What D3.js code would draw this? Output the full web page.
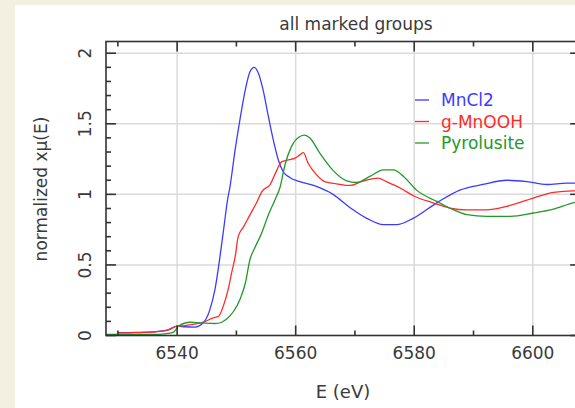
<!DOCTYPE html>
<html>
<head>
<meta charset="utf-8">
<script src="https://cdn.jsdelivr.net/npm/d3@7"></script>
<style>
  html, body { margin: 0; padding: 0; background: #f4f0e1; }
  svg { display: block; }
  text { font-family: "DejaVu Sans", sans-serif; fill: #3a3a3a; }
</style>
</head>
<body>
<svg id="chart" width="575" height="408"></svg>
<script>
// Normalized Mn K-edge XANES for three reference compounds
const seriesNames = ["MnCl2", "g-MnOOH", "Pyrolusite"];
const seriesColors = ["#3b3bff", "#ff2a2a", "#22992a"];

const energyMnCl2 = [6530, 6533, 6536.5, 6538.5, 6540, 6541.3, 6543, 6544.4, 6545.5, 6546.4, 6547.1, 6547.9, 6548.5, 6548.9, 6549.8, 6550.6, 6551.5, 6552.3, 6553, 6553.7, 6554.5, 6555.4, 6556.2, 6557.1, 6557.9, 6559, 6560.7, 6563.5, 6566.3, 6569.2, 6572, 6574.8, 6577, 6579.8, 6583.8, 6587.7, 6591.6, 6595.6, 6599, 6602.4, 6605.7, 6610];
const muMnCl2 = [0.02, 0.022, 0.028, 0.04, 0.066, 0.062, 0.06, 0.09, 0.18, 0.33, 0.52, 0.77, 0.96, 1.05, 1.32, 1.53, 1.74, 1.87, 1.90, 1.86, 1.74, 1.55, 1.39, 1.24, 1.16, 1.12, 1.09, 1.056, 1.0, 0.905, 0.83, 0.785, 0.785, 0.83, 0.94, 1.03, 1.07, 1.10, 1.09, 1.07, 1.08, 1.08];

const energyMnOOH = [6530, 6533, 6536.3, 6538.5, 6540, 6541.3, 6542.5, 6544.4, 6546.1, 6547, 6547.8, 6548.6, 6549.2, 6549.8, 6550.3, 6551.2, 6552.3, 6553.4, 6554.3, 6555.7, 6556.8, 6557.6, 6558.8, 6559.9, 6560.7, 6561.3, 6562.1, 6563.5, 6564.9, 6566.9, 6569.2, 6571.1, 6573.9, 6575.3, 6577.6, 6580.1, 6583.2, 6586, 6588.9, 6592.2, 6595.6, 6600.1, 6603.5, 6606.8, 6610];
const muMnOOH = [0.018, 0.02, 0.025, 0.04, 0.066, 0.07, 0.078, 0.094, 0.125, 0.136, 0.21, 0.325, 0.445, 0.56, 0.70, 0.77, 0.856, 0.94, 1.02, 1.07, 1.17, 1.23, 1.245, 1.257, 1.28, 1.295, 1.22, 1.14, 1.09, 1.075, 1.063, 1.09, 1.115, 1.09, 1.045, 0.985, 0.94, 0.903, 0.89, 0.89, 0.915, 0.974, 1.014, 1.025, 1.025];

const energyPyrolusite = [6526, 6536, 6538, 6539.4, 6540.2, 6542.2, 6543.9, 6546.4, 6547.5, 6548.4, 6549.5, 6550.6, 6551.5, 6552.3, 6553.1, 6554.3, 6555.4, 6556.5, 6557.4, 6558.2, 6559.3, 6560.7, 6561.5, 6562.4, 6564.1, 6566.3, 6568.6, 6570.3, 6572.5, 6574.8, 6576.5, 6578.2, 6580.4, 6583.8, 6586, 6588.9, 6592.2, 6596.2, 6600.1, 6603.5, 6606.8, 6610];
const muPyrolusite = [0.007, 0.007, 0.012, 0.024, 0.066, 0.094, 0.09, 0.085, 0.094, 0.118, 0.17, 0.255, 0.37, 0.54, 0.62, 0.73, 0.856, 0.96, 1.056, 1.21, 1.34, 1.41, 1.42, 1.40, 1.29, 1.17, 1.096, 1.084, 1.127, 1.174, 1.174, 1.127, 1.03, 0.95, 0.903, 0.856, 0.844, 0.844, 0.868, 0.896, 0.94, 0.96];

const xTickValues = [6540, 6560, 6580, 6600];
const xMinorValues = [6530, 6550, 6570, 6590];
const yTickValues = [0, 0.5, 1, 1.5, 2];
const yTickLabels = ["0", "0.5", "1", "1.5", "2"];
const yMinorValues = d3.range(0, 2.05, 0.1);

const titleText = "all marked groups";
const xLabelText = "E (eV)";

const series = [
  { name: seriesNames[0], color: seriesColors[0], e: energyMnCl2, mu: muMnCl2 },
  { name: seriesNames[1], color: seriesColors[1], e: energyMnOOH, mu: muMnOOH },
  { name: seriesNames[2], color: seriesColors[2], e: energyPyrolusite, mu: muPyrolusite }
];

const svg = d3.select("#chart");
svg.append("rect").attr("x", 15).attr("y", 5).attr("width", 560).attr("height", 403).attr("fill", "#ffffff");

const plot = { left: 106, top: 41.5, right: 580.2, bottom: 335.5 };
const x = d3.scaleLinear().domain([6528, 6608]).range([plot.left, plot.right]);
const y = d3.scaleLinear().domain([0, 2.083]).range([plot.bottom, plot.top]);

// grid lines at major ticks
const grid = svg.append("g").attr("stroke", "#dadada").attr("stroke-width", 1.5);
grid.selectAll("line.gx").data(xTickValues).join("line")
  .attr("x1", d => x(d)).attr("x2", d => x(d))
  .attr("y1", plot.top).attr("y2", plot.bottom);
grid.selectAll("line.gy").data(yTickValues.filter(v => v > 0)).join("line")
  .attr("y1", d => y(d)).attr("y2", d => y(d))
  .attr("x1", plot.left).attr("x2", plot.right);

// spectra
svg.append("clipPath").attr("id", "clip").append("rect")
  .attr("x", plot.left).attr("y", plot.top)
  .attr("width", plot.right - plot.left).attr("height", plot.bottom - plot.top);

const line = d3.line().x(d => x(d[0])).y(d => y(d[1])).curve(d3.curveMonotoneX);
svg.append("g").attr("clip-path", "url(#clip)")
  .selectAll("path").data(series).join("path")
  .attr("fill", "none").attr("stroke", d => d.color).attr("stroke-width", 1.3)
  .attr("d", d => line(d.e.map((e, i) => [e, d.mu[i]])));

// frame and inward ticks on all four sides
const axisColor = "#333";
const frame = svg.append("g").attr("stroke", axisColor).attr("stroke-width", 1.6).attr("fill", "none");
frame.append("rect").attr("x", plot.left).attr("y", plot.top)
  .attr("width", plot.right - plot.left).attr("height", plot.bottom - plot.top);

function xTicks(sel, values, len) {
  sel.selectAll(null).data(values).join("line")
    .attr("x1", d => x(d)).attr("x2", d => x(d))
    .attr("y1", plot.bottom).attr("y2", plot.bottom - len);
  sel.selectAll(null).data(values).join("line")
    .attr("x1", d => x(d)).attr("x2", d => x(d))
    .attr("y1", plot.top).attr("y2", plot.top + len);
}
function yTicks(sel, values, len) {
  sel.selectAll(null).data(values).join("line")
    .attr("y1", d => y(d)).attr("y2", d => y(d))
    .attr("x1", plot.left).attr("x2", plot.left + len);
  sel.selectAll(null).data(values).join("line")
    .attr("y1", d => y(d)).attr("y2", d => y(d))
    .attr("x1", plot.right).attr("x2", plot.right - len);
}
xTicks(frame, xTickValues, 10);
xTicks(frame, xMinorValues, 5);
yTicks(frame, yTickValues, 10);
yTicks(frame, yMinorValues.filter(v => Math.abs(v * 2 - Math.round(v * 2)) > 1e-6), 5);

// tick labels
svg.append("g").selectAll("text").data(xTickValues).join("text")
  .attr("x", d => x(d)).attr("y", 359)
  .attr("text-anchor", "middle").attr("font-size", 17)
  .text(d => d);

svg.append("g").selectAll("text").data(yTickValues).join("text")
  .attr("transform", (d, i) => `translate(91,${y(d)}) rotate(-90)`)
  .attr("text-anchor", "middle").attr("font-size", 17)
  .text((d, i) => yTickLabels[i]);

// titles
svg.append("text").attr("x", 356).attr("y", 30).attr("text-anchor", "middle")
  .attr("font-size", 17).text(titleText);
svg.append("text").attr("x", 343).attr("y", 398).attr("text-anchor", "middle")
  .attr("font-size", 18).text(xLabelText);
svg.append("text").attr("transform", "translate(47,189) rotate(-90)")
  .attr("text-anchor", "middle").attr("font-size", 17)
  .text("normalized xμ(E)");

// legend
const legend = svg.append("g").selectAll("g").data(series).join("g")
  .attr("transform", (d, i) => `translate(415,${100 + i * 21.5})`);
legend.append("line").attr("x1", 0).attr("x2", 14).attr("y1", 0).attr("y2", 0)
  .attr("stroke", d => d.color).attr("stroke-width", 1.3);
legend.append("text").attr("x", 26).attr("y", 6).attr("font-size", 17)
  .style("fill", d => d.color).text(d => d.name);
</script>
</body>
</html>
